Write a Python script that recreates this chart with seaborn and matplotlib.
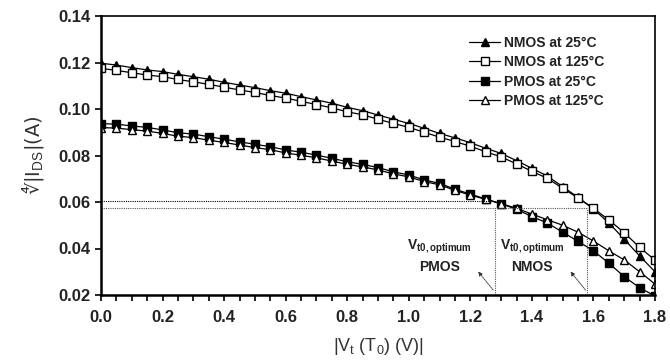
import numpy as np
import pandas as pd
import matplotlib
matplotlib.use("Agg")
import matplotlib.pyplot as plt
import seaborn as sns
from matplotlib.lines import Line2D

# ---- data ----
vt = [0.00, 0.05, 0.10, 0.15, 0.20, 0.25, 0.30, 0.35, 0.40, 0.45,
      0.50, 0.55, 0.60, 0.65, 0.70, 0.75, 0.80, 0.85, 0.90, 0.95,
      1.00, 1.05, 1.10, 1.15, 1.20, 1.25, 1.30, 1.35, 1.40, 1.45,
      1.50, 1.55, 1.60, 1.65, 1.70, 1.75, 1.80]

nmos_25 = [0.1197, 0.1189, 0.1178, 0.1168, 0.1161, 0.1149, 0.1139, 0.1128, 0.1115, 0.1103,
           0.1092, 0.1079, 0.1068, 0.1053, 0.1039, 0.1025, 0.1007, 0.0993, 0.0974, 0.0956,
           0.0938, 0.0917, 0.0895, 0.0876, 0.0855, 0.0831, 0.0809, 0.0778, 0.0745, 0.0712,
           0.0666, 0.0620, 0.0570, 0.0510, 0.0440, 0.0368, 0.0300]

nmos_125 = [0.1175, 0.1166, 0.1156, 0.1146, 0.1139, 0.1127, 0.1117, 0.1106, 0.1094, 0.1082,
            0.1071, 0.1058, 0.1047, 0.1033, 0.1019, 0.1005, 0.0988, 0.0975, 0.0956, 0.0938,
            0.0921, 0.0900, 0.0879, 0.0860, 0.0840, 0.0816, 0.0794, 0.0764, 0.0732, 0.0702,
            0.0659, 0.0617, 0.0573, 0.0523, 0.0468, 0.0405, 0.0350]

pmos_25 = [0.0937, 0.0935, 0.0927, 0.0921, 0.0910, 0.0898, 0.0892, 0.0881, 0.0870, 0.0859,
           0.0848, 0.0838, 0.0824, 0.0814, 0.0802, 0.0788, 0.0773, 0.0762, 0.0748, 0.0730,
           0.0716, 0.0695, 0.0680, 0.0655, 0.0634, 0.0613, 0.0592, 0.0569, 0.0537, 0.0510,
           0.0470, 0.0431, 0.0390, 0.0337, 0.0279, 0.0231, 0.0196]

pmos_125 = [0.0920, 0.0918, 0.0911, 0.0905, 0.0895, 0.0883, 0.0877, 0.0866, 0.0856, 0.0845,
            0.0834, 0.0825, 0.0811, 0.0801, 0.0790, 0.0776, 0.0762, 0.0751, 0.0738, 0.0721,
            0.0708, 0.0688, 0.0674, 0.0650, 0.0630, 0.0611, 0.0593, 0.0573, 0.0548, 0.0524,
            0.0500, 0.0470, 0.0432, 0.0390, 0.0351, 0.0300, 0.0247]

series_names = ["NMOS at 25°C", "NMOS at 125°C", "PMOS at 25°C", "PMOS at 125°C"]
series_values = [nmos_25, nmos_125, pmos_25, pmos_125]

opt_pmos = (1.28, 0.0604)
opt_nmos = (1.58, 0.0576)

xticks = [0.0, 0.2, 0.4, 0.6, 0.8, 1.0, 1.2, 1.4, 1.6, 1.8]
yticks = [0.02, 0.04, 0.06, 0.08, 0.10, 0.12, 0.14]

# ---- style ----
sns.set_style("ticks")
plt.rcParams["font.family"] = ["Liberation Sans", "DejaVu Sans"]
plt.rcParams["mathtext.fontset"] = "custom"
plt.rcParams["mathtext.rm"] = "Liberation Sans"
plt.rcParams["mathtext.bf"] = "Liberation Sans:bold"
plt.rcParams["mathtext.it"] = "Liberation Sans"

fig = plt.figure(figsize=(6.7, 3.63), dpi=100)
ax = fig.add_axes([101/670, 68/363, (655-101)/670, (295-16)/363])

styles = [
    dict(marker="^", markerfacecolor="black"),
    dict(marker="s", markerfacecolor="white"),
    dict(marker="s", markerfacecolor="black"),
    dict(marker="^", markerfacecolor="white"),
]

df = pd.DataFrame({"vt": vt})
for name, vals in zip(series_names, series_values):
    df[name] = vals

for name, st in zip(series_names, styles):
    sns.lineplot(data=df, x="vt", y=name, ax=ax, color="black", linewidth=0.9,
                 marker=st["marker"], markersize=6.3, markeredgecolor="black",
                 markerfacecolor=st["markerfacecolor"], markeredgewidth=1.0,
                 clip_on=True)

# dotted guide lines
ax.plot([0, opt_pmos[0]], [opt_pmos[1], opt_pmos[1]], color="black", lw=0.8, ls=(0, (1, 1)))
ax.plot([0, opt_nmos[0]], [opt_nmos[1], opt_nmos[1]], color="#555555", lw=0.8, ls=(0, (1, 1)))
ax.plot([opt_pmos[0], opt_pmos[0]], [0.02, opt_nmos[1]], color="#555555", lw=0.8, ls=(0, (1, 1)))
ax.plot([opt_nmos[0], opt_nmos[0]], [0.02, opt_nmos[1]], color="#555555", lw=0.8, ls=(0, (1, 1)))

# annotations
for lbl, xc, xo in [("PMOS", 1.10, opt_pmos[0]), ("NMOS", 1.40, opt_nmos[0])]:
    ax.text(xc, 0.0405, r"$\mathbf{V_{t0,optimum}}$", ha="center", va="center",
            fontsize=10, color="#222222")
    ax.text(xc, 0.0322, lbl, ha="center", va="center",
            fontsize=10, fontweight="bold", color="#222222")
    ax.annotate("", xy=(xo - 0.06, 0.031), xytext=(xo, 0.0212),
                arrowprops=dict(arrowstyle="-|>", color="#333333", lw=0.6,
                                ls=(0, (2, 1)), mutation_scale=6))

ax.set_xlim(0, 1.8)
ax.set_ylim(0.02, 0.14)
ax.set_xticks(xticks)
ax.set_xticks(vt, minor=True)
ax.set_yticks(yticks)
ax.set_xticklabels([f"{t:.1f}" for t in xticks], fontsize=12, fontweight="bold", color="#222222")
ax.set_yticklabels([f"{t:.2f}" for t in yticks], fontsize=12, fontweight="bold", color="#222222")
ax.tick_params(axis="both", which="both", direction="out", length=4, width=1.2, color="black")
ax.tick_params(axis="x", which="major", pad=7)
for sp in ax.spines.values():
    sp.set_visible(True)
    sp.set_linewidth(1.2)
    sp.set_color("black")
ax.spines["left"].set_linewidth(1.8)
ax.spines["bottom"].set_linewidth(1.8)

ax.set_xlabel(r"|V$_{\rm t}$ (T$_{\rm 0}$) (V)|", fontsize=13, color="#333333", labelpad=8)
ax.set_ylabel("∜|I$_{\\rm DS}$|(A)", fontsize=14, color="#333333", labelpad=9,
              fontfamily=["DejaVu Sans"])

handles = [Line2D([0], [0], color="black", lw=0.9, marker=st["marker"], markersize=6.3,
                  markerfacecolor=st["markerfacecolor"], markeredgecolor="black",
                  markeredgewidth=1.0)
           for st in styles]
leg = ax.legend(handles, series_names, loc="upper left", bbox_to_anchor=(0.655, 0.95),
                frameon=False, prop=dict(weight="bold", size=10), handlelength=2.2,
                handletextpad=0.3, labelspacing=0.4, borderaxespad=0)
for t in leg.get_texts():
    t.set_color("#222222")

fig.savefig("out.png", dpi=100)
